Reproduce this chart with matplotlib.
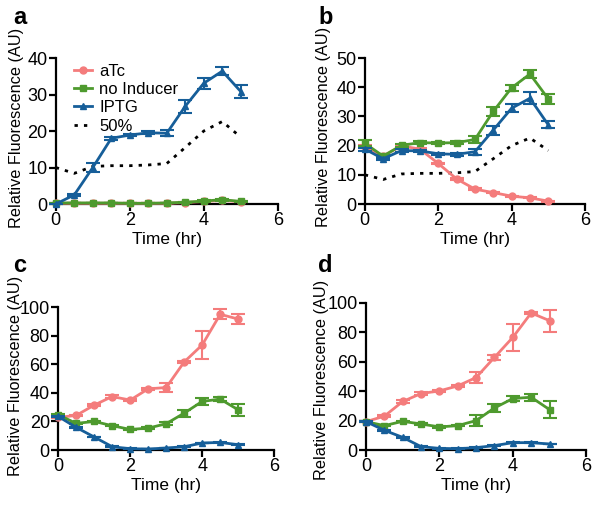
import matplotlib
matplotlib.use("Agg")
import matplotlib.pyplot as plt
import numpy as np

plt.rcParams['font.family'] = ['Liberation Sans', 'DejaVu Sans']

time = [0, 0.5, 1, 1.5, 2, 2.5, 3, 3.5, 4, 4.5, 5]

# Panel a
a_atc = [0.2, 0.2, 0.2, 0.2, 0.2, 0.2, 0.2, 0.4, 0.7, 1.0, 0.6]
a_atc_err = [0, 0, 0, 0, 0, 0, 0, 0.1, 0.1, 0.2, 0.1]
a_none = [0.3, 0.3, 0.3, 0.3, 0.2, 0.2, 0.3, 0.5, 0.8, 1.2, 0.7]
a_none_err = [0, 0, 0, 0, 0, 0, 0, 0.1, 0.2, 0.3, 0.2]
a_iptg = [0.0, 2.5, 10.0, 18.0, 18.9, 19.5, 19.4, 26.8, 33.1, 36.4, 30.8]
a_iptg_err = [0.1, 0.3, 1.2, 0.4, 0.4, 0.4, 0.8, 1.8, 1.5, 1.0, 1.7]
half = [10.0, 8.4, 10.3, 10.5, 10.5, 10.7, 11.1, 15.5, 20.0, 22.6, 18.3]

# Panel b
b_atc = [19.6, 16.5, 19.9, 18.8, 13.9, 8.6, 5.1, 3.9, 2.7, 2.1, 1.0]
b_atc_err = [0.5, 0.3, 0.4, 0.4, 0.3, 0.3, 0.3, 0.2, 0.2, 0.2, 0.2]
b_none = [20.8, 16.4, 20.1, 21.0, 20.9, 21.0, 22.1, 31.7, 39.8, 44.5, 36.0]
b_none_err = [1.0, 0.4, 0.5, 0.5, 0.5, 0.5, 1.2, 1.5, 1.0, 1.5, 1.7]
b_iptg = [18.8, 15.5, 18.3, 18.2, 17.2, 17.0, 17.9, 25.3, 32.8, 36.2, 27.1]
b_iptg_err = [0.5, 0.4, 0.4, 0.4, 0.4, 0.4, 1.0, 1.5, 1.3, 2.0, 1.2]

# Panel c
c_atc = [22.8, 24.2, 31.4, 37.4, 34.9, 42.8, 43.7, 61.6, 73.5, 94.9, 91.6]
c_atc_err = [0.5, 0.5, 0.8, 0.8, 0.8, 0.8, 3.0, 1.0, 10.0, 3.5, 3.5]
c_none = [24.7, 18.6, 20.0, 17.0, 14.4, 15.3, 18.4, 25.8, 34.0, 35.6, 28.1]
c_none_err = [0.8, 0.5, 0.5, 0.5, 0.5, 0.5, 1.0, 2.5, 2.5, 1.5, 4.0]
c_iptg = [23.5, 15.8, 9.1, 2.3, 0.9, 0.7, 1.4, 2.3, 4.9, 5.3, 3.7]
c_iptg_err = [0.5, 0.3, 0.3, 0.2, 0.2, 0.2, 0.2, 0.2, 0.3, 0.3, 0.3]

# Panel d
d_atc = [19.3, 23.0, 33.0, 38.4, 40.2, 43.6, 49.3, 63.0, 76.6, 93.2, 88.0]
d_atc_err = [0.5, 0.5, 0.8, 0.8, 0.8, 0.8, 3.5, 1.5, 9.0, 1.0, 7.5]
d_none = [19.3, 16.6, 19.5, 17.7, 15.7, 16.6, 20.0, 28.6, 35.0, 35.9, 27.5]
d_none_err = [0.5, 0.5, 0.5, 0.5, 0.5, 0.5, 3.5, 3.0, 2.0, 2.5, 5.5]
d_iptg = [19.3, 13.4, 8.6, 2.3, 1.1, 0.9, 1.6, 3.0, 5.0, 5.0, 4.1]
d_iptg_err = [0.3, 0.3, 0.3, 0.2, 0.2, 0.2, 0.2, 0.2, 0.3, 0.3, 0.3]

labels = ['aTc', 'no Inducer', 'IPTG', '50%']
yticks_a = [0, 10, 20, 30, 40]
yticks_b = [0, 10, 20, 30, 40, 50]
yticks_cd = [0, 20, 40, 60, 80, 100]
xticks = [0, 2, 4, 6]

PINK = '#F47C7C'
GREEN = '#4E9A2E'
BLUE = '#165E99'

fig = plt.figure(figsize=(6.0, 5.07), dpi=100)

positions = {
    'a': [0.093, 0.5976, 0.370, 0.288],
    'b': [0.608, 0.5976, 0.367, 0.288],
    'c': [0.097, 0.1124, 0.360, 0.282],
    'd': [0.610, 0.1124, 0.367, 0.290],
}
label_coords = {
    'a': (-0.145, 0.520),
    'b': (-0.155, 0.530),
    'c': (-0.165, 0.520),
    'd': (-0.168, 0.480),
}

def style(ax, key, yt, ylim):
    ax.set_xlim(0, 6)
    ax.set_ylim(ylim)
    ax.set_xticks(xticks)
    ax.set_yticks(yt)
    for s in ['top', 'right']:
        ax.spines[s].set_visible(False)
    for s in ['left', 'bottom']:
        ax.spines[s].set_linewidth(1.6)
    ax.tick_params(axis='both', direction='out', length=5, width=1.6, labelsize=13, pad=1)
    ax.set_xlabel('Time (hr)', fontsize=12.5, labelpad=2)
    ax.set_ylabel('Relative Fluorescence (AU)', fontsize=11.7)
    ax.yaxis.set_label_coords(*label_coords[key])

def plot_series(ax, y, err, color, marker, label, zorder, ms=5):
    c = ax.errorbar(time, y, yerr=err, color=color, marker=marker, markersize=ms,
                    linewidth=2, elinewidth=1.5, capsize=5, capthick=1.5,
                    zorder=zorder, clip_on=False)
    line = c.lines[0]
    line.set_label(label)
    return line

data = {
    'a': (a_atc, a_atc_err, a_none, a_none_err, a_iptg, a_iptg_err),
    'b': (b_atc, b_atc_err, b_none, b_none_err, b_iptg, b_iptg_err),
    'c': (c_atc, c_atc_err, c_none, c_none_err, c_iptg, c_iptg_err),
    'd': (d_atc, d_atc_err, d_none, d_none_err, d_iptg, d_iptg_err),
}

for key in ['a', 'b', 'c', 'd']:
    ax = fig.add_axes(positions[key])
    atc, atc_e, none, none_e, iptg, iptg_e = data[key]
    h1 = plot_series(ax, atc, atc_e, PINK, 'o', labels[0], 3)
    h2 = plot_series(ax, none, none_e, GREEN, 's', labels[1], 4)
    h3 = plot_series(ax, iptg, iptg_e, BLUE, '^', labels[2], 5)
    if key in ('a', 'b'):
        h4, = ax.plot(time, half, color='black', linestyle=(0, (1.2, 2.2)), linewidth=2,
                      label=labels[3], zorder=2)
    if key == 'a':
        style(ax, key, yticks_a, (0, 40))
        ax.legend([h1, h2, h3, h4], labels,
                  loc='upper left', bbox_to_anchor=(0.035, 1.03), frameon=False,
                  fontsize=12, handlelength=1.1, handletextpad=0.45,
                  labelspacing=0.2, borderaxespad=0.2)
    elif key == 'b':
        style(ax, key, yticks_b, (0, 50))
    else:
        style(ax, key, yticks_cd, (0, 100))

fig.text(0.022, 0.953, 'a', fontsize=17, fontweight='bold', va='baseline')
fig.text(0.530, 0.953, 'b', fontsize=17, fontweight='bold', va='baseline')
fig.text(0.022, 0.463, 'c', fontsize=17, fontweight='bold', va='baseline')
fig.text(0.530, 0.463, 'd', fontsize=17, fontweight='bold', va='baseline')

fig.savefig('out.png', dpi=100)
